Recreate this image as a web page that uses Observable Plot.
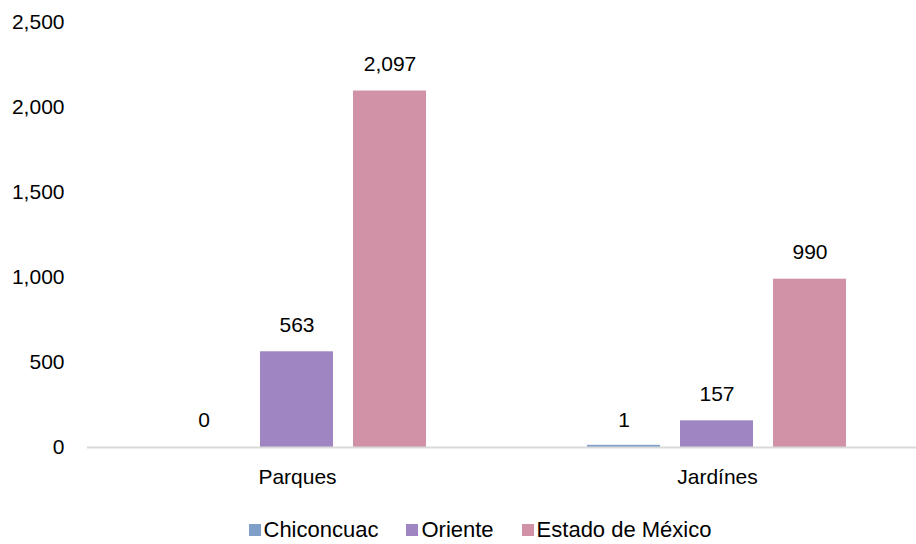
<!DOCTYPE html>
<html><head><meta charset="utf-8">
<script src="https://cdn.jsdelivr.net/npm/d3@7"></script>
<script src="https://cdn.jsdelivr.net/npm/@observablehq/plot@0.6"></script>
<style>
html,body{margin:0;background:#fff;font-family:"Liberation Sans",Arial,sans-serif;overflow:hidden;}
#chart{width:916px;overflow:hidden;}
#chart svg{max-width:none !important;width:927px !important;height:512px !important;}
#legend{display:flex;justify-content:center;align-items:center;width:916px;padding-left:44px;padding-top:5px;box-sizing:border-box;font-size:22px;line-height:26px;color:#000;}
#legend .item{display:flex;align-items:center;margin:0 14px;}
#legend .sw{width:12px;height:12px;margin-right:3px;}
</style>
</head><body><div id="chart"></div><div id="legend"></div>
<script>
const categories = ["Parques", "Jardínes"];
const series = ["Chiconcuac", "Oriente", "Estado de México"];
const chiconcuac = [0, 1];
const oriente = [563, 157];
const estado = [2097, 990];
const yTicks = [0, 500, 1000, 1500, 2000, 2500];
const colors = ["#7f9fc9", "#9f86c2", "#d191a6"];

const values = [chiconcuac, oriente, estado];
const data = categories.flatMap((c, i) => series.map((s, j) => ({category: c, series: s, value: values[j][i]})));
const fmt = d3.format(",");

const plot = Plot.plot({
  width: 927, height: 512,
  marginLeft: 87, marginRight: 0, marginTop: 22, marginBottom: 65,
  style: {fontFamily: "'Liberation Sans', Arial, sans-serif", fontSize: "21px", color: "#000", background: "#fff"},
  fx: {domain: categories, padding: 0, label: null, axis: "bottom", tickSize: 0, tickPadding: 22},
  x: {domain: series, axis: null, paddingInner: 0.214, paddingOuter: 0.853},
  y: {domain: [0, 2500], ticks: yTicks, tickFormat: fmt, tickSize: 0, tickPadding: 23, label: null},
  color: {domain: series, range: colors},
  marks: [
    Plot.barY(data, {fx: "category", x: "series", y: "value", fill: "series"}),
    Plot.barY(data.filter(d => d.series === "Chiconcuac" && d.value > 0), {fx: "category", x: "series", y: "value", fill: "series", insetTop: -2}),
    Plot.ruleY([0], {stroke: "#d9d9d9", strokeWidth: 2}),
    Plot.text(data, {fx: "category", x: "series", y: "value", text: d => fmt(d.value), dy: -27, fill: "#000", fontSize: 21})
  ]
});
document.getElementById("chart").appendChild(plot);

const legend = document.getElementById("legend");
series.forEach((s, i) => {
  const item = document.createElement("div");
  item.className = "item";
  const sw = document.createElement("span");
  sw.className = "sw";
  sw.style.background = colors[i];
  const t = document.createElement("span");
  t.textContent = s;
  item.appendChild(sw); item.appendChild(t);
  legend.appendChild(item);
});
</script>
</body></html>
